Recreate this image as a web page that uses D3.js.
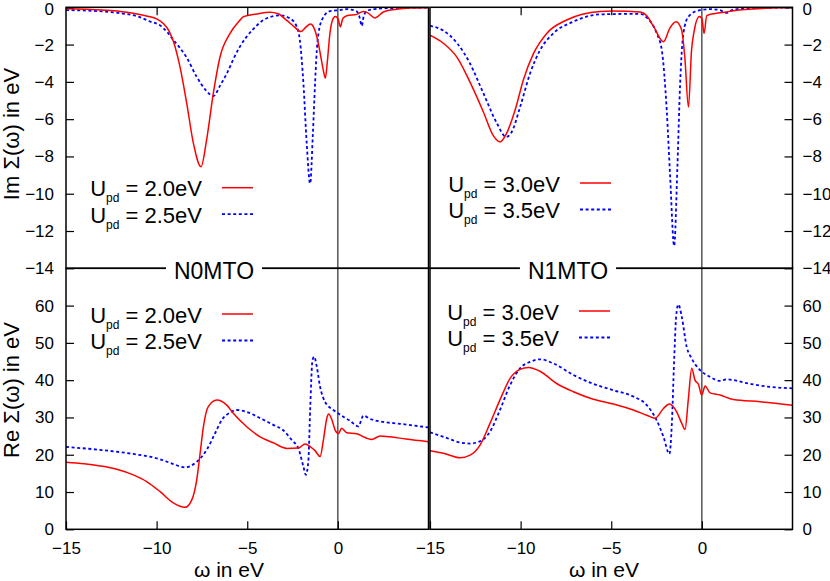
<!DOCTYPE html>
<html><head><meta charset="utf-8">
<script src="https://cdn.jsdelivr.net/npm/d3@7"></script>
<style>
body{margin:0;background:#fff;}
text{font-family:"Liberation Sans",Arial,Helvetica,sans-serif;fill:#000;}
</style></head>
<body><svg id="c" width="830" height="581"></svg>
<script>
// ---------- data ----------
const xTicks = [-15, -10, -5, 0];
const imTicks = [0, -2, -4, -6, -8, -10, -12, -14];
const reTicks = [0, 10, 20, 30, 40, 50, 60];
const panelNames = ["N0MTO", "N1MTO"];
const legendN0 = ["2.0eV", "2.5eV"];
const legendN1 = ["3.0eV", "3.5eV"];

const imN0_u20 = [[-15,-0.08],[-13,-0.15],[-12,-0.22],[-11.3,-0.32],[-10.5,-0.48],[-10,-0.62],[-9.6,-0.9],[-9.3,-1.3],[-9.05,-1.9],[-8.71,-3.2],[-8.34,-5.15],[-7.97,-7.3],[-7.55,-8.55],[-7.24,-7.1],[-6.87,-4.6],[-6.5,-2.65],[-5.95,-1.4],[-5.45,-0.75],[-5.2,-0.5],[-4.5,-0.36],[-3.74,-0.27],[-3.3,-0.35],[-2.82,-0.7],[-2.4,-1.05],[-2.05,-1.3],[-1.75,-1.05],[-1.52,-0.9],[-1.32,-1.1],[-1.15,-1.62],[-0.95,-2.6],[-0.8,-3.4],[-0.69,-3.8],[-0.58,-2.9],[-0.45,-1.5],[-0.3,-0.7],[-0.14,-0.5],[0.0,-0.6],[0.14,-1.04],[0.27,-0.6],[0.49,-0.45],[1.04,-0.38],[1.4,-0.22],[1.6,-0.27],[2.05,-0.57],[2.51,-0.25],[3.25,-0.1],[4,-0.04],[5,-0.02]];
const imN0_u25 = [[-15,-0.15],[-13,-0.22],[-12,-0.32],[-11,-0.5],[-10.4,-0.75],[-9.81,-0.97],[-9.4,-1.35],[-9.08,-1.75],[-8.7,-2.2],[-8.34,-2.7],[-7.79,-3.73],[-7.24,-4.5],[-6.87,-4.76],[-6.5,-4.2],[-6.1,-3.5],[-5.75,-2.75],[-5.4,-2.1],[-5.05,-1.6],[-4.7,-1.2],[-4.1,-0.68],[-3.2,-0.43],[-2.64,-0.6],[-2.27,-1.04],[-2.1,-1.75],[-1.9,-4.1],[-1.72,-7.3],[-1.53,-9.45],[-1.38,-6.8],[-1.26,-4.1],[-1.13,-1.9],[-0.89,-0.7],[-0.43,-0.2],[0.12,-0.15],[0.5,-0.1],[1.04,-0.22],[1.2,-0.55],[1.32,-1.0],[1.42,-0.5],[1.6,-0.2],[1.96,-0.1],[3,-0.04],[5,-0.01]];
const imN1_u30 = [[-15,-1.49],[-14.26,-1.93],[-13.5,-2.7],[-12.8,-4.0],[-12.06,-5.6],[-11.5,-6.9],[-11.13,-7.22],[-10.77,-6.75],[-10.3,-5.5],[-9.85,-3.9],[-9.3,-2.5],[-8.56,-1.4],[-7.46,-0.68],[-5.62,-0.22],[-4.9,-0.2],[-3.41,-0.25],[-3.04,-0.45],[-2.68,-1.0],[-2.12,-1.85],[-1.76,-1.1],[-1.42,-0.77],[-1.12,-1.2],[-0.94,-2.7],[-0.74,-5.35],[-0.57,-2.3],[-0.43,-1.3],[-0.14,-0.5],[0.0,-0.6],[0.12,-1.4],[0.27,-0.45],[0.73,-0.33],[1.37,-0.25],[1.75,-0.18],[3.6,-0.05],[5,-0.01]];
const imN1_u35 = [[-15,-1.0],[-14.26,-1.25],[-13.5,-1.93],[-12.8,-3.0],[-12.06,-4.6],[-11.32,-6.2],[-10.8,-6.95],[-10.5,-6.7],[-10.03,-5.35],[-9.48,-3.55],[-8.93,-2.3],[-8.2,-1.4],[-7.1,-0.77],[-5.63,-0.38],[-3.41,-0.35],[-3.04,-0.55],[-2.49,-1.4],[-2.21,-2.3],[-1.94,-5.5],[-1.75,-9.1],[-1.53,-12.8],[-1.35,-8.55],[-1.2,-4.1],[-1.02,-1.4],[-0.74,-0.5],[-0.1,-0.15],[0.45,-0.1],[1.0,-0.15],[1.34,-0.3],[1.75,-0.12],[3,-0.04],[5,-0.01]];

const reN0_u20 = [[-15,18.0],[-14,17.6],[-13.12,17.0],[-12.2,16.1],[-11.29,14.6],[-10.55,12.8],[-9.81,10.1],[-9.08,7.1],[-8.43,5.9],[-8.06,7.9],[-7.79,13.2],[-7.6,20.4],[-7.42,27.5],[-7.15,32.9],[-6.68,34.7],[-6.13,33.3],[-5.77,31.1],[-5.03,27.5],[-4.29,24.8],[-3.56,23.2],[-2.82,21.7],[-2.18,21.8],[-1.81,22.9],[-1.53,22.2],[-1.26,21.1],[-0.98,19.5],[-0.8,23.9],[-0.61,29.8],[-0.52,30.9],[-0.34,29.5],[-0.15,26.6],[0.03,25.7],[0.21,27.1],[0.49,25.9],[1.04,25.6],[1.6,24.4],[1.87,24.1],[2.33,25.0],[2.88,24.8],[3.75,24.2],[5,23.5]];
const reN0_u25 = [[-15,22.1],[-13.12,21.3],[-11.29,20.2],[-9.81,18.8],[-9.08,17.5],[-8.43,16.6],[-7.79,18.1],[-7.24,21.3],[-6.78,25.7],[-6.41,29.3],[-5.95,31.3],[-5.58,32.0],[-5.03,31.5],[-4.29,29.8],[-3.56,28.0],[-3.0,26.5],[-2.54,23.9],[-2.18,21.7],[-1.9,16.8],[-1.77,14.6],[-1.63,18.2],[-1.53,32],[-1.4,45.4],[-1.31,46.3],[-1.16,43.5],[-0.98,38.2],[-0.71,34.2],[-0.25,32.0],[0.3,30.2],[0.67,29.1],[1.13,27.6],[1.41,30.5],[1.78,29.6],[2.51,28.8],[3.43,28.3],[5,27.3]];
const reN1_u30 = [[-15,21.1],[-14.26,20.4],[-13.34,19.2],[-12.79,19.9],[-12.24,22.6],[-11.69,28.4],[-11.14,34.7],[-10.58,40.5],[-10.03,42.9],[-9.57,43.4],[-8.93,42.4],[-8.01,39.1],[-7.09,36.9],[-5.99,34.9],[-4.88,33.6],[-3.78,32.0],[-3.04,30.6],[-2.58,29.8],[-2.12,32.4],[-1.79,33.6],[-1.39,31.5],[-1.11,28.4],[-0.93,26.8],[-0.75,34.7],[-0.56,43.2],[-0.38,40.0],[-0.19,38.9],[-0.01,36.0],[0.18,38.4],[0.45,36.6],[1.0,36.0],[1.74,34.8],[3.21,34.2],[5,33.3]];
const reN1_u35 = [[-15,26.0],[-14.26,24.8],[-13.34,23.3],[-12.79,23.0],[-12.24,23.6],[-11.69,26.2],[-11.14,32.0],[-10.58,38.7],[-10.03,43.2],[-9.48,44.9],[-8.93,45.6],[-8.2,44.5],[-7.09,41.4],[-5.99,39.0],[-4.88,37.3],[-3.78,35.6],[-3.04,33.3],[-2.5,29.3],[-2.12,24.8],[-1.79,20.2],[-1.66,28],[-1.53,45.4],[-1.42,57],[-1.3,60.3],[-1.11,57],[-0.84,49],[-0.56,45.8],[-0.1,42.7],[0.45,40.9],[1.0,39.8],[1.37,40.2],[2.66,39.0],[3.58,38.3],[5,37.8]];

// ---------- layout ----------
const svg = d3.select("#c");
const RED = "#ff0000", BLUE = "#0000ff";
const xL = d3.scaleLinear().domain([-15, 5]).range([66, 428.5]);
const xR = d3.scaleLinear().domain([-15, 5]).range([430, 792.5]);
const yIm = d3.scaleLinear().domain([-14, 0]).range([268.3, 7.3]);
const yRe = d3.scaleLinear().domain([0, 70]).range([529.3, 268.3]);

const panels = [
  {x: xL, y: yIm, s1: imN0_u20, s2: imN0_u25, side: "left", ticks: imTicks, top: true, leg: legendN0, legX: 222, legY: 187.7},
  {x: xR, y: yIm, s1: imN1_u30, s2: imN1_u35, side: "right", ticks: imTicks, top: true, leg: legendN1, legX: 580, legY: 183},
  {x: xL, y: yRe, s1: reN0_u20, s2: reN0_u25, side: "left", ticks: reTicks, top: false, leg: legendN0, legX: 222, legY: 314},
  {x: xR, y: yRe, s1: reN1_u30, s2: reN1_u35, side: "right", ticks: reTicks, top: false, leg: legendN1, legX: 579, legY: 311}
];

panels.forEach((p, i) => {
  const [x0, x1] = p.x.range();
  const [yb, yt] = p.y.range();
  const g = svg.append("g");
  const cid = "clip" + i;
  svg.append("clipPath").attr("id", cid).append("rect")
    .attr("x", x0).attr("y", yt).attr("width", x1 - x0).attr("height", yb - yt);

  // zero line
  g.append("line").attr("x1", p.x(0)).attr("x2", p.x(0)).attr("y1", yt).attr("y2", yb)
    .attr("stroke", "#000").attr("stroke-width", 1);

  // curves
  const line = d3.line().x(d => p.x(d[0])).y(d => p.y(d[1])).curve(d3.curveMonotoneX);
  g.append("path").attr("d", line(p.s2)).attr("fill", "none").attr("stroke", BLUE)
    .attr("stroke-width", 1.8).attr("stroke-dasharray", "3,2.6").attr("clip-path", `url(#${cid})`);
  g.append("path").attr("d", line(p.s1)).attr("fill", "none").attr("stroke", RED)
    .attr("stroke-width", 1.5).attr("clip-path", `url(#${cid})`);

  // y axis
  const yAx = (p.side === "left" ? d3.axisLeft(p.y) : d3.axisRight(p.y))
    .tickValues(p.ticks).tickSize(-8).tickPadding(p.side === "left" ? 12 : 10);
  const ya = g.append("g").attr("transform", `translate(${p.side === "left" ? x0 : x1},0)`).call(yAx);
  ya.select(".domain").remove();
  ya.selectAll("text").attr("font-size", 17).attr("font-family", "Liberation Sans, Arial, sans-serif");
  if (p.top) ya.selectAll("text").filter(d => d === 0).attr("dy", "0.42em");
  ya.selectAll("line").attr("stroke-width", 1.2);

  // x axis ticks
  if (p.top) {
    const xa = g.append("g").attr("transform", `translate(0,${yt})`)
      .call(d3.axisTop(p.x).tickValues([-10, -5]).tickSize(-8).tickFormat(""));
    xa.select(".domain").remove();
    xa.selectAll("line").attr("stroke-width", 1.2);
  } else {
    const xa = g.append("g").attr("transform", `translate(0,${yb})`)
      .call(d3.axisBottom(p.x).tickValues(xTicks).tickSize(-8).tickPadding(13));
    xa.select(".domain").remove();
    xa.selectAll("text").attr("font-size", 17).attr("font-family", "Liberation Sans, Arial, sans-serif");
    xa.selectAll("line").attr("stroke-width", 1.2);
  }

  // border
  g.append("rect").attr("x", x0).attr("y", yt).attr("width", x1 - x0).attr("height", yb - yt)
    .attr("fill", "none").attr("stroke", "#000").attr("stroke-width", 1.5);

  // legend
  const rows = [{t: p.leg[0], c: RED, dash: null, w: 1.5}, {t: p.leg[1], c: BLUE, dash: "3,2.6", w: 1.8}];
  rows.forEach((r, k) => {
    const yy = p.legY + k * 26.5;
    g.append("line").attr("x1", p.legX).attr("x2", p.legX + 31).attr("y1", yy).attr("y2", yy)
      .attr("stroke", r.c).attr("stroke-width", r.w).attr("stroke-dasharray", r.dash);
    const t = g.append("text").attr("x", p.legX - 20).attr("y", yy + 8.5)
      .attr("text-anchor", "end").attr("font-size", 22);
    t.append("tspan").text("U");
    t.append("tspan").attr("font-size", 12).attr("dy", 6).text("pd");
    t.append("tspan").attr("dy", -6).text(" = " + r.t);
  });
});

// panel name labels on the middle line
const nameX = [214, 568];
panelNames.forEach((n, i) => {
  const t = svg.append("text").attr("x", nameX[i]).attr("y", 278.5).attr("text-anchor", "middle")
    .attr("font-size", 23).text(n);
  const bb = t.node().getBBox();
  svg.insert("rect", function(){ return t.node(); })
    .attr("x", bb.x - 8).attr("y", 262).attr("width", bb.width + 16).attr("height", 12).attr("fill", "#fff");
});

// axis titles
svg.append("text").attr("transform", "translate(19,134) rotate(-90)").attr("text-anchor", "middle")
  .attr("font-size", 22).text("Im Σ(ω) in eV");
svg.append("text").attr("transform", "translate(19,390) rotate(-90)").attr("text-anchor", "middle")
  .attr("font-size", 22).text("Re Σ(ω) in eV");
svg.append("text").attr("x", 229).attr("y", 577).attr("text-anchor", "middle").attr("font-size", 21).text("ω in eV");
svg.append("text").attr("x", 604).attr("y", 577).attr("text-anchor", "middle").attr("font-size", 21).text("ω in eV");
</script></body></html>
